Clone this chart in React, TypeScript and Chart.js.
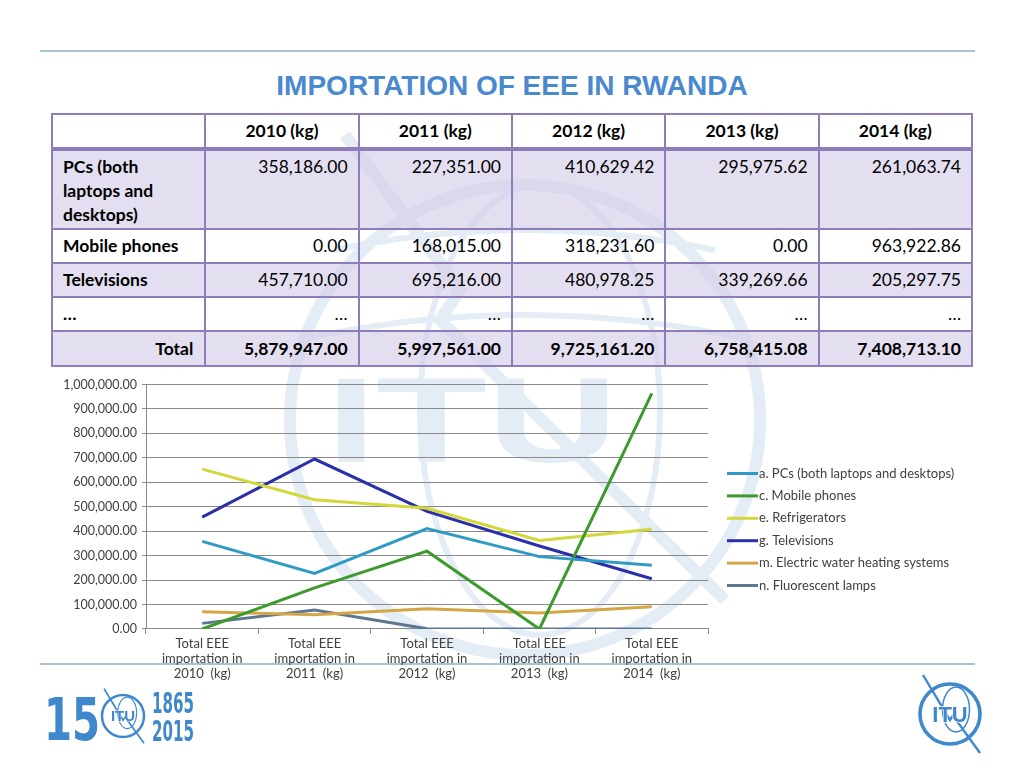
import React, { useEffect, useRef } from "react";
import { Chart, registerables } from "chart.js";

Chart.register(...registerables);

// ---------- DATA ----------
const years = ["2010", "2011", "2012", "2013", "2014"];
const xLabels = years.map((y) => ["Total EEE", "importation in", `${y}  (kg)`]);

const pcs = [358186.0, 227351.0, 410629.42, 295975.62, 261063.74];
const mobile = [0, 168015.0, 318231.6, 0, 963922.86];
const refrigerators = [654000, 529000, 494000, 362000, 408000];
const televisions = [457710.0, 695216.0, 480978.25, 339269.66, 205297.75];
const waterHeating = [71000, 58000, 83000, 65000, 91000];
const fluorescent = [23000, 78000, 1000, 0, 0];

const seriesNames = [
  "a. PCs (both laptops and desktops)",
  "c. Mobile phones",
  "e. Refrigerators",
  "g. Televisions",
  "m. Electric water heating systems",
  "n. Fluorescent lamps",
];
const seriesColors = ["#2F9BC5", "#3C9B2C", "#D3D83A", "#2B2FA8", "#D4A645", "#5F7691"];

// table
const tableHeaders = ["2010 (kg)", "2011 (kg)", "2012 (kg)", "2013 (kg)", "2014 (kg)"];
const tablePcs = ["358,186.00", "227,351.00", "410,629.42", "295,975.62", "261,063.74"];
const tableMobile = ["0.00", "168,015.00", "318,231.60", "0.00", "963,922.86"];
const tableTv = ["457,710.00", "695,216.00", "480,978.25", "339,269.66", "205,297.75"];
const tableDots = ["…", "…", "…", "…", "…"];
const tableTotal = ["5,879,947.00", "5,997,561.00", "9,725,161.20", "6,758,415.08", "7,408,713.10"];

const yTickMax = 1000000;
const yTickStep = 100000;

const FONT = "Lato, 'Open Sans', sans-serif";
const BLUE = "#3F88CB";
const BORDER = "#8F7DBB";
const FILL = "rgba(212,203,231,0.62)";

function fmt(v: number) {
  return v.toLocaleString("en-US", { minimumFractionDigits: 2, maximumFractionDigits: 2 });
}

// legend drawn on the chart canvas, to the right of the plot area
const sideLegend = {
  id: "sideLegend",
  afterDraw(chart: any) {
    const ctx = chart.ctx;
    const a = chart.chartArea;
    ctx.save();
    chart.data.datasets.forEach((ds: any, i: number) => {
      const y = a.top + 89 + i * 22.4;
      const x = a.right + 19;
      ctx.strokeStyle = ds.borderColor;
      ctx.lineWidth = 3;
      ctx.beginPath();
      ctx.moveTo(x, y);
      ctx.lineTo(x + 31, y);
      ctx.stroke();
      ctx.fillStyle = "#404040";
      ctx.font = `13px ${FONT}`;
      ctx.textBaseline = "middle";
      ctx.textAlign = "left";
      ctx.fillText(ds.label, x + 32, y);
    });
    ctx.restore();
  },
};

function LineChart() {
  const ref = useRef<HTMLCanvasElement | null>(null);
  useEffect(() => {
    if (!ref.current) return;
    const values = [pcs, mobile, refrigerators, televisions, waterHeating, fluorescent];
    const chart = new Chart(ref.current, {
      type: "line",
      data: {
        labels: xLabels,
        datasets: values.map((d, i) => ({
          label: seriesNames[i],
          data: d,
          borderColor: seriesColors[i],
          backgroundColor: seriesColors[i],
          borderWidth: 3,
          pointRadius: 0,
          pointHoverRadius: 0,
          tension: 0,
          fill: false,
        })),
      },
      plugins: [sideLegend],
      options: {
        animation: false,
        responsive: true,
        maintainAspectRatio: false,
        layout: { padding: { top: 0, bottom: 1, left: 0, right: 267 } },
        plugins: {
          tooltip: { enabled: false },
          legend: { display: false },
        },
        scales: {
          x: {
            offset: true,
            grid: {
              offset: true,
              drawOnChartArea: false,
              drawTicks: true,
              tickLength: 5,
              color: "#8A8A8A",
            },
            border: { color: "#8A8A8A" },
            ticks: {
              color: "#404040",
              font: { family: FONT, size: 13, lineHeight: 1.154 },
              padding: 2,
              maxRotation: 0,
              autoSkip: false,
            },
          },
          y: {
            min: 0,
            max: yTickMax,
            ticks: {
              stepSize: yTickStep,
              color: "#404040",
              font: { family: FONT, size: 12.5 },
              padding: 5,
              callback: (v: any) => fmt(Number(v)),
            },
            grid: { color: "#8A8A8A", tickLength: 4 },
            border: { color: "#8A8A8A" },
            afterFit: (s: any) => {
              s.width = 106;
            },
          },
        },
      } as any,
    });
    return () => chart.destroy();
  }, []);
  return (
    <div style={{ position: "absolute", left: 40, top: 372, width: 935, height: 312 }}>
      <canvas ref={ref} />
    </div>
  );
}

function Watermark() {
  const c = "#E4ECF6";
  return (
    <svg
      width={1024}
      height={768}
      style={{ position: "absolute", left: 0, top: 0 }}
      viewBox="0 0 1024 768"
    >
      <g fill="none" stroke={c}>
        <circle cx={525} cy={420} r={235} strokeWidth={12} />
        <ellipse cx={540} cy={410} rx={120} ry={225} strokeWidth={6} />
        <path d="M 300 340 Q 525 290 750 340" strokeWidth={6} />
        <path d="M 335 250 Q 525 210 715 250" strokeWidth={6} />
        <path d="M 345 135 L 460 290 L 440 320 L 725 600" strokeWidth={12} />
      </g>
      <text
        x={326}
        y={462}
        fontFamily="'Liberation Sans', Arial, sans-serif"
        fontWeight="bold"
        fontSize={120}
        fill={c}
        textLength={292}
        lengthAdjust="spacingAndGlyphs"
      >
        ITU
      </text>
    </svg>
  );
}

function ItuGlobe({ cx, cy, r, size }: { cx: number; cy: number; r: number; size: number }) {
  return (
    <g>
      <circle cx={cx} cy={cy} r={r} fill="white" stroke={BLUE} strokeWidth={r * 0.12} />
      <ellipse cx={cx + r * 0.2} cy={cy - r * 0.15} rx={r * 0.45} ry={r * 0.75} fill="none" stroke={BLUE} strokeWidth={r * 0.05} />
      <path
        d={`M ${cx - r * 0.9} ${cy - r * 1.3} L ${cx} ${cy + r * 0.2} L ${cx + r * 0.1} ${cy + r * 0.05} L ${cx + r * 1.0} ${cy + r * 1.3}`}
        fill="none"
        stroke={BLUE}
        strokeWidth={r * 0.08}
      />
      <text
        x={cx}
        y={cy + size * 0.36}
        textAnchor="middle"
        fontFamily="'Liberation Sans', Arial, sans-serif"
        fontWeight="bold"
        fontSize={size}
        fill={BLUE}
        stroke="white"
        strokeWidth={size * 0.06}
        paintOrder="stroke"
      >
        ITU
      </text>
    </g>
  );
}

function Logos() {
  return (
    <svg width={1024} height={768} style={{ position: "absolute", left: 0, top: 0 }}>
      <text
        x={44}
        y={740}
        fontFamily="'Liberation Sans Narrow', 'DejaVu Sans Condensed', Arial, sans-serif"
        fontWeight="bold"
        fontSize={58}
        fill={BLUE}
        textLength={56}
        lengthAdjust="spacingAndGlyphs"
      >
        15
      </text>
      <ItuGlobe cx={123} cy={716} r={21} size={15} />
      <text
        x={152}
        y={713}
        fontFamily="'Liberation Sans Narrow', 'DejaVu Sans Condensed', Arial, sans-serif"
        fontWeight="bold"
        fontSize={29}
        fill={BLUE}
        textLength={42}
        lengthAdjust="spacingAndGlyphs"
      >
        1865
      </text>
      <text
        x={152}
        y={741}
        fontFamily="'Liberation Sans Narrow', 'DejaVu Sans Condensed', Arial, sans-serif"
        fontWeight="bold"
        fontSize={29}
        fill={BLUE}
        textLength={42}
        lengthAdjust="spacingAndGlyphs"
      >
        2015
      </text>
      <ItuGlobe cx={950} cy={714} r={30} size={22} />
    </svg>
  );
}

const cellBase: React.CSSProperties = {
  border: `2px solid ${BORDER}`,
  padding: "0 10px",
  fontSize: 17.5,
  lineHeight: "24px",
  color: "#000",
};

function DataTable() {
  const row = (
    label: React.ReactNode,
    vals: string[],
    opts: { fill: boolean; height: number; top?: boolean; bold?: boolean; labelRight?: boolean }
  ) => (
    <tr style={{ height: opts.height, background: opts.fill ? FILL : "transparent" }}>
      <td
        style={{
          ...cellBase,
          fontWeight: "bold",
          verticalAlign: opts.top ? "top" : "middle",
          paddingTop: opts.top ? 4 : 0,
          textAlign: opts.labelRight ? "right" : "left",
          paddingRight: opts.labelRight ? 11 : 10,
        }}
      >
        {label}
      </td>
      {vals.map((v, i) => (
        <td
          key={i}
          style={{
            ...cellBase,
            textAlign: "right",
            verticalAlign: opts.top ? "top" : "middle",
            paddingTop: opts.top ? 4 : 0,
            fontWeight: opts.bold ? "bold" : "normal",
          }}
        >
          {v}
        </td>
      ))}
    </tr>
  );
  return (
    <table
      style={{
        position: "absolute",
        left: 51,
        top: 113,
        width: 922,
        borderCollapse: "collapse",
        tableLayout: "fixed",
        fontFamily: FONT,
      }}
    >
      <tbody>
        <tr style={{ height: 35 }}>
          <td style={{ ...cellBase, borderBottom: `4px solid ${BORDER}` }} />
          {tableHeaders.map((h, i) => (
            <td
              key={i}
              style={{
                ...cellBase,
                textAlign: "center",
                fontWeight: "bold",
                borderBottom: `4px solid ${BORDER}`,
              }}
            >
              {h}
            </td>
          ))}
        </tr>
        {row(
          <span>
            PCs (both
            <br />
            laptops and
            <br />
            desktops)
          </span>,
          tablePcs,
          { fill: true, height: 80, top: true }
        )}
        {row("Mobile phones", tableMobile, { fill: false, height: 34 })}
        {row("Televisions", tableTv, { fill: true, height: 34 })}
        {row("…", tableDots, { fill: false, height: 34 })}
        {row("Total", tableTotal, { fill: true, height: 35, bold: true, labelRight: true })}
      </tbody>
    </table>
  );
}

export default function App() {
  return (
    <div
      style={{
        position: "absolute",
        left: 0,
        top: 0,
        width: 1024,
        height: 768,
        background: "#fff",
        overflow: "hidden",
        fontFamily: FONT,
      }}
    >
      <Watermark />
      <div style={{ position: "absolute", left: 40, top: 50, width: 935, height: 2, background: "#A7C4D5" }} />
      <div style={{ position: "absolute", left: 40, top: 663, width: 935, height: 2, background: "#A7C4D5" }} />
      <div
        style={{
          position: "absolute",
          left: 0,
          width: 1024,
          top: 68,
          textAlign: "center",
          fontFamily: "'Liberation Sans', Arial, sans-serif",
          fontWeight: "bold",
          fontSize: 28,
          color: "#4A89CE",
          lineHeight: "36px",
        }}
      >
        IMPORTATION OF EEE IN RWANDA
      </div>
      <DataTable />
      <LineChart />
      <Logos />
    </div>
  );
}
